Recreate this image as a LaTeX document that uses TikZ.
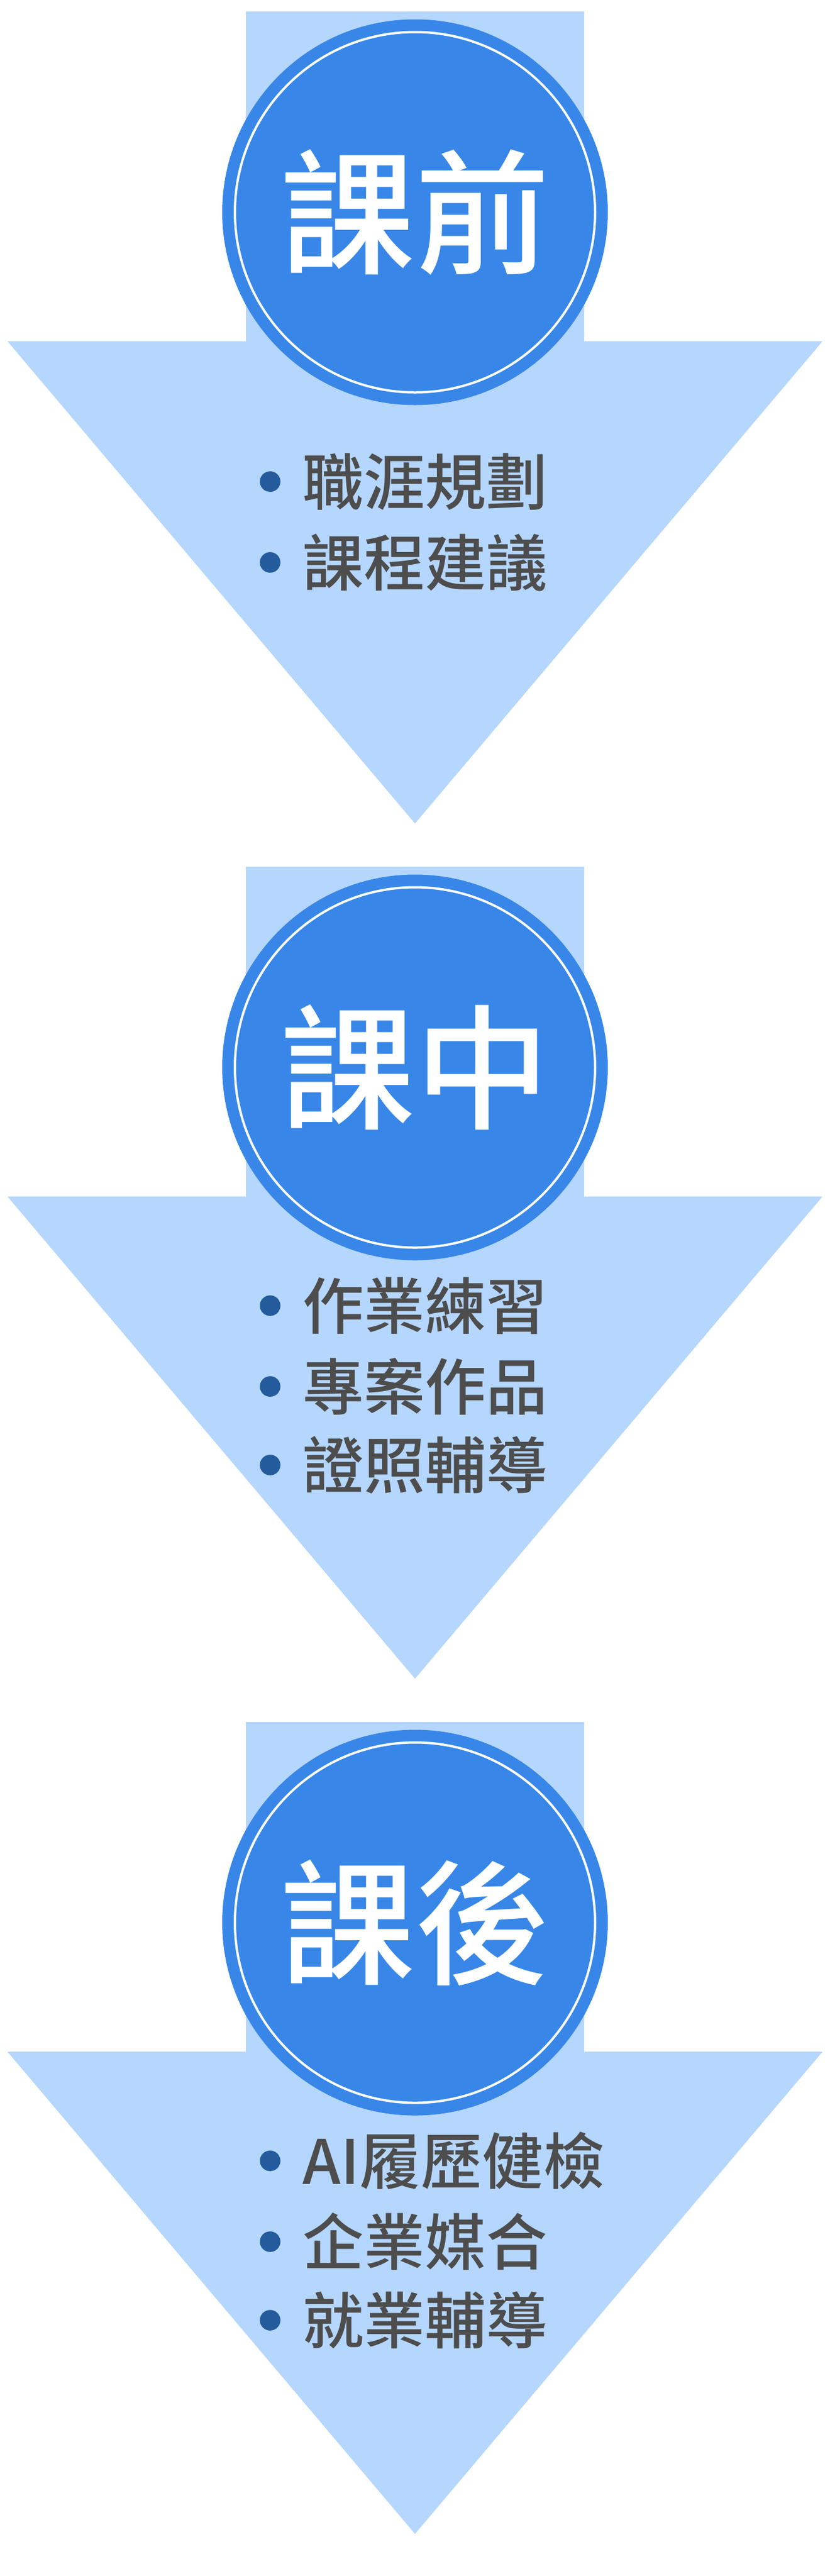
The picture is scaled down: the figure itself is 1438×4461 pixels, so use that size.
\documentclass[tikz,border=0pt]{standalone}
\usepackage{fontspec}
\newfontfamily\titlefont{Noto Sans CJK TC}[UprightFont={* Medium}]
\newfontfamily\itemfont{Noto Sans CJK TC}[UprightFont={* Medium}]
\usetikzlibrary{positioning}

\definecolor{arrowblue}{HTML}{B5D6FD}
\definecolor{circleblue}{HTML}{3887E8}
\definecolor{dotblue}{HTML}{235B9D}
\definecolor{itemgray}{HTML}{4D4D4D}

\tikzset{
    stagecircle/.style={circle, fill=circleblue, minimum size=334pt, inner sep=0pt,
        text=white, font=\titlefont\fontsize{116.5pt}{116.5pt}\selectfont},
    ringline/.style={draw=white, line width=2pt},
    bulletdot/.style={circle, fill=dotblue, minimum size=17.8pt, inner sep=0pt},
    itemtext/.style={inner sep=0pt, text=itemgray, font=\itemfont\fontsize{53pt}{53pt}\selectfont}
}

\begin{document}
\begin{tikzpicture}[x=0.5pt, y=-0.5pt]
    \useasboundingbox (0,0) rectangle (1438,4461);

    % before class
    \fill[arrowblue] (426,20) -- (1012,20) -- (1012,591) -- (1425,591)
        -- (719,1426) -- (13,591) -- (426,591) -- cycle;
    \node[stagecircle] (c1) at (719,367.5) {課前};
    \draw[ringline] (c1.center) circle[radius=156pt];

    \node[bulletdot] (b11) at (468,834) {};
    \node[bulletdot] (b12) at (468,974) {};
    \node[itemtext, right=19pt of b11] (t11) {職涯規劃};
    \node[itemtext, right=19pt of b12] (t12) {課程建議};

    % during class
    \fill[arrowblue] (426,1501) -- (1012,1501) -- (1012,2072) -- (1425,2072)
        -- (719,2907) -- (13,2072) -- (426,2072) -- cycle;
    \node[stagecircle] (c2) at (719,1848.5) {課中};
    \draw[ringline] (c2.center) circle[radius=156pt];

    \node[bulletdot] (b21) at (468,2261) {};
    \node[bulletdot] (b22) at (468,2401) {};
    \node[bulletdot] (b23) at (468,2537) {};
    \node[itemtext, right=19pt of b21] (t21) {作業練習};
    \node[itemtext, right=19pt of b22] (t22) {專案作品};
    \node[itemtext, right=19pt of b23] (t23) {證照輔導};

    % after class
    \fill[arrowblue] (426,2982) -- (1012,2982) -- (1012,3553) -- (1425,3553)
        -- (719,4388) -- (13,3553) -- (426,3553) -- cycle;
    \node[stagecircle] (c3) at (719,3329.5) {課後};
    \draw[ringline] (c3.center) circle[radius=156pt];

    \node[bulletdot] (b31) at (468,3742) {};
    \node[bulletdot] (b32) at (468,3882) {};
    \node[bulletdot] (b33) at (468,4018) {};
    \node[itemtext, right=19pt of b31] (t31) {AI履歷健檢};
    \node[itemtext, right=19pt of b32] (t32) {企業媒合};
    \node[itemtext, right=19pt of b33] (t33) {就業輔導};

\end{tikzpicture}
\end{document}
